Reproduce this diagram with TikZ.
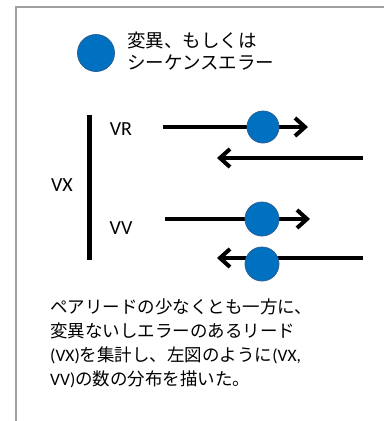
\documentclass[tikz,border=0pt]{standalone}
\usepackage{fontspec}
\setmainfont{Noto Sans CJK JP}
\newfontfamily\lat{Carlito}
\usetikzlibrary{arrows.meta}
\definecolor{dotblue}{HTML}{0070C0}
\definecolor{dotedge}{HTML}{2A5E96}
\definecolor{framegray}{HTML}{A0A0A0}
\tikzset{
  dot/.style={circle,fill=dotblue,draw=dotedge,line width=0.8bp,inner sep=0pt},
  arr/.style={line width=4bp,-{Straight Barb[length=10bp,width=18bp,line width=4bp]}},
  lbl/.style={font=\lat\fontsize{20bp}{22bp}\selectfont,inner sep=0pt},
}
\begin{document}
\begin{tikzpicture}[x=1bp,y=-1bp]
\useasboundingbox (0,0) rectangle (384,421);
% frame
\coordinate (fb) at (16,421);
\coordinate (fc) at (16,7);
\coordinate (fr) at (384,7);
\draw[framegray,line width=1.3bp] (fb) -- (fc) -- (fr);
% legend
\node[dot,minimum size=37bp] (leg) at (96,53) {};
\node[anchor=west,align=left,inner sep=0pt,font=\fontsize{18.5bp}{22bp}\selectfont] (legt) at (127,51) {変異、もしくは\\シーケンスエラー};
% bar and labels
\coordinate (bt) at (89,115);
\coordinate (bb) at (89,260);
\draw[line width=5bp] (bt) -- (bb);
\node[lbl] (vx) at (62,185) {VX};
\node[lbl] (vr) at (121,129) {VR};
\node[lbl] (vv) at (121,228) {VV};
% arrows
\coordinate (a1s) at (163,127);
\coordinate (a1e) at (308,127);
\coordinate (a2s) at (363,158);
\coordinate (a2e) at (217,158);
\coordinate (a3s) at (165,219);
\coordinate (a3e) at (310,219);
\coordinate (a4s) at (363,258);
\coordinate (a4e) at (217,258);
\draw[arr] (a1s) -- (a1e);
\draw[arr] (a2s) -- (a2e);
\draw[arr] (a3s) -- (a3e);
\draw[arr] (a4s) -- (a4e);
\node[dot,minimum size=32bp] (d1) at (263,127) {};
\node[dot,minimum size=34bp] (d3) at (262,219) {};
\node[dot,minimum size=34bp] (d4) at (262,264) {};
% description
\node[anchor=north west,align=left,inner sep=0pt,font=\fontsize{17.5bp}{24bp}\selectfont] (desc) at (50,299)
{ペアリードの少なくとも一方に、\\変異ないしエラーのあるリード\\{\lat(VX)}を集計し、左図のように{\lat(VX,}\\{\lat VV)}の数の分布を描いた。};
\end{tikzpicture}
\end{document}
